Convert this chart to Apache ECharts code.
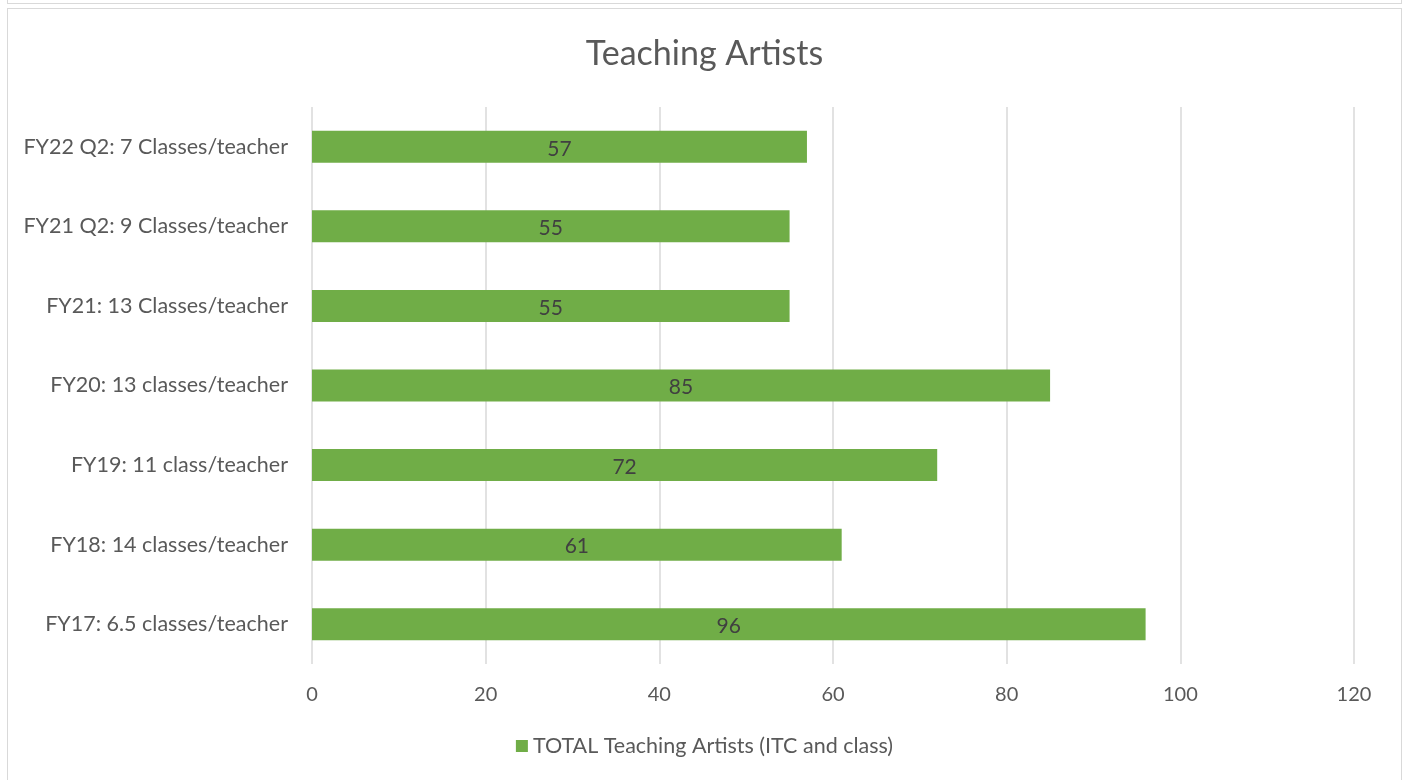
<!DOCTYPE html>
<html><head><meta charset="utf-8">
<script src="https://cdn.jsdelivr.net/npm/echarts@6/dist/echarts.min.js"></script>
<style>
html,body{margin:0;padding:0;background:#fff;}
#top{position:absolute;left:7px;top:-2px;width:1393px;height:5px;border:1px solid #d9d9d9;border-top:none;}
#box{position:absolute;left:7px;top:8px;width:1393px;height:780px;border:1px solid #d9d9d9;border-bottom:none;}
#c{position:absolute;left:0;top:0;width:1409px;height:780px;}
</style></head>
<body>
<div id="top"></div><div id="box"></div>
<div id="c"></div>
<script>
const categories = ["FY17: 6.5 classes/teacher","FY18: 14 classes/teacher","FY19: 11 class/teacher","FY20: 13 classes/teacher","FY21: 13 Classes/teacher","FY21 Q2: 9 Classes/teacher","FY22 Q2: 7 Classes/teacher"];
const values = [96, 61, 72, 85, 55, 55, 57];
const seriesName = "TOTAL Teaching Artists (ITC and class)";
const FONT = "Lato, 'Open Sans', sans-serif";
const chart = echarts.init(document.getElementById('c'));
chart.setOption({
  animation: false,
  textStyle: {fontFamily: FONT},
  title: {text: "Teaching Artists", left: 'center', top: 32,
    textStyle: {fontSize: 34, fontWeight: 'normal', color: '#595959', fontFamily: FONT}},
  legend: {bottom: 18, left: 'center', itemWidth: 12, itemHeight: 12, itemGap: 6,
    textStyle: {fontSize: 21.5, color: '#595959', fontFamily: FONT}, icon: 'rect',
    data: [seriesName]},
  grid: {left: 312, right: 55, top: 107, bottom: 116, containLabel: false},
  xAxis: {type: 'value', min: 0, max: 120, interval: 20,
    axisLine: {show: false}, axisTick: {show: false},
    splitLine: {lineStyle: {color: '#d9d9d9', width: 1.5}},
    axisLabel: {fontSize: 20, color: '#595959', margin: 21, fontFamily: FONT}},
  yAxis: {type: 'category', data: categories,
    axisLine: {show: false}, axisTick: {show: false},
    axisLabel: {fontSize: 21.5, color: '#595959', margin: 24, fontFamily: FONT}},
  series: [{name: seriesName, type: 'bar', data: values, barWidth: 32,
    itemStyle: {color: '#70ad47'},
    label: {show: true, position: 'inside', fontSize: 21, color: '#404040', fontFamily: FONT, offset: [0, 2]}}]
});
</script>
</body></html>
